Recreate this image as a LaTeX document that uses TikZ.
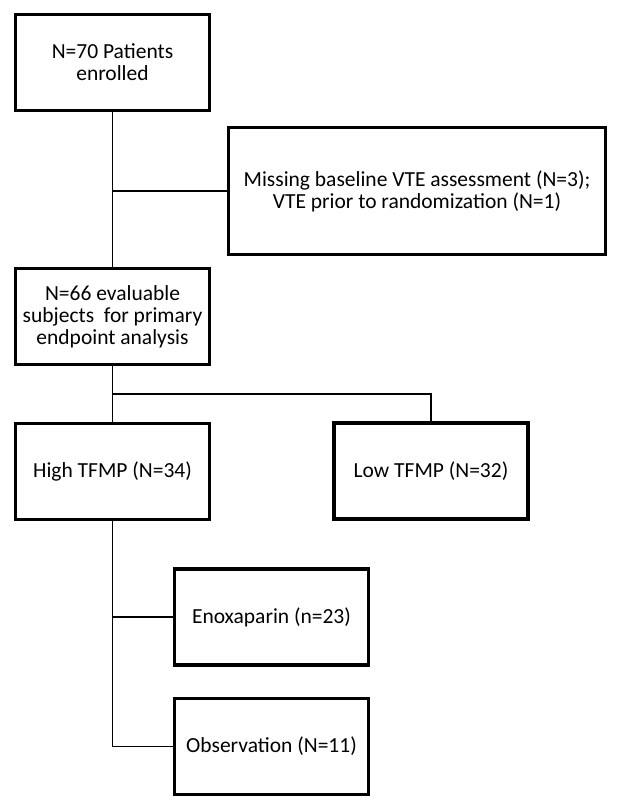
\documentclass[tikz,border=0pt]{standalone}
\usepackage{fontspec}
\setmainfont{Carlito}
\begin{document}
\begin{tikzpicture}[x=1pt,y=-1pt,
  box/.style={draw, line width=3.2pt, align=center, inner sep=0pt,
    font=\fontsize{21.5}{22}\selectfont, minimum width=194pt, minimum height=96pt},
  conn/.style={draw, line width=1.1pt}]
\useasboundingbox (0,0) rectangle (621,810);
\fill[white] (0,0) rectangle (621,810);

\node[box] (enrolled) at (112.5,62.5) {N=70 Patients\\enrolled};
\node[box, minimum width=377pt, minimum height=127pt] (excluded) at (417,191)
  {Missing baseline VTE assessment (N=3);\\VTE prior to randomization (N=1)};
\node[box] (evaluable) at (112.5,316.5) {N=66 evaluable\\subjects\ \ for primary\\endpoint analysis};
\node[box] (high) at (112.5,471.5) {High TFMP (N=34)};
\node[box] (low) at (431,471) {Low TFMP (N=32)};
\node[box] (enox) at (271.5,617) {Enoxaparin (n=23)};
\node[box] (obs) at (271.5,746.5) {Observation (N=11)};

\coordinate (split) at (112.5,394);

\draw[conn] (enrolled.south) -- (evaluable.north);
\draw[conn] (enrolled.south |- excluded.west) -- (excluded.west);
\draw[conn] (evaluable.south) -- (high.north);
\draw[conn] (split) -| (low.north);
\draw[conn] (high.south) -- (high.south |- obs.west) -- (obs.west);
\draw[conn] (high.south |- enox.west) -- (enox.west);
\end{tikzpicture}
\end{document}
